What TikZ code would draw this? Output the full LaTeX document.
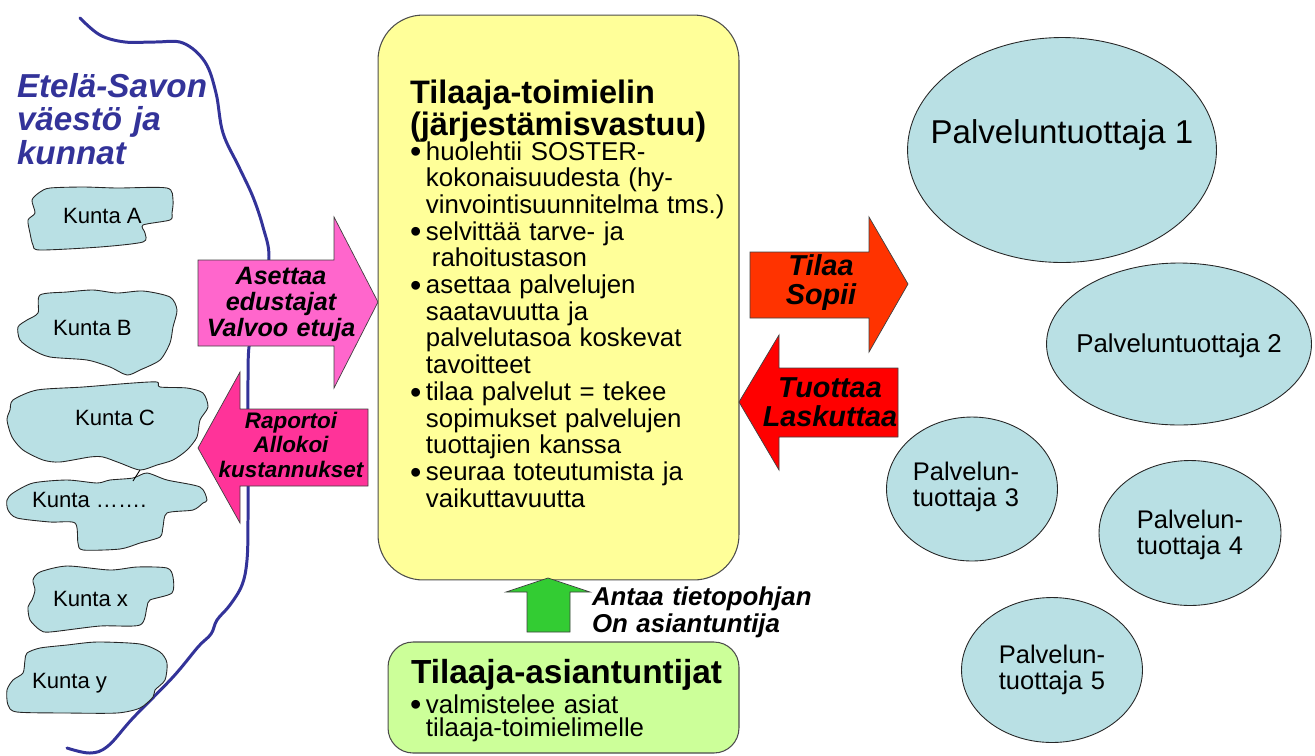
\documentclass[tikz,border=0pt]{standalone}
\usepackage{fontspec}
\setmainfont{Liberation Sans}
\usetikzlibrary{shapes.geometric}
\definecolor{navy}{RGB}{51,51,153}
\definecolor{blobc}{RGB}{185,224,228}
\definecolor{yel}{RGB}{255,255,153}
\definecolor{lgreen}{RGB}{204,255,153}
\definecolor{pinkA}{RGB}{255,102,204}
\definecolor{pinkB}{RGB}{255,51,153}
\definecolor{orng}{RGB}{255,51,0}
\definecolor{redd}{RGB}{255,0,0}
\definecolor{grn}{RGB}{51,204,51}
\newcommand{\bul}{\makebox[9.1pt][l]{\raisebox{-1.6pt}{\scalebox{1.25}{•}}}}
\newcommand{\ind}{\hspace*{9.1pt}}
\begin{document}
\begin{tikzpicture}[x=0.02cm,y=-0.02cm,
  blob/.style={draw=black!85,line width=0.5pt,fill=blobc},
  blockarrow/.style={draw=black!75,line width=0.4pt},
  txt/.style={inner sep=0pt,outer sep=0pt},
  ltxt/.style={txt,text width=8cm,align=left,anchor=base west},
  ctxt/.style={txt,text width=5cm,align=center,anchor=base},
  kunta/.style={txt,anchor=base west,font=\fontsize{12.6}{14}\selectfont},
  prod/.style={ellipse,draw=black!85,line width=0.5pt,fill=blobc,inner sep=0pt},
  panel/.style={draw=black!70,line width=0.6pt}
]
\useasboundingbox (0,0) rectangle (1315,755);

% border line
\draw[navy,line width=1.7pt,line cap=round] plot[smooth,tension=0.6] coordinates {
 (80,18) (100,35) (125,42) (155,42) (183,43) (205,62) (216,93) (223,133)
 (239,167) (253,197) (263,227) (269,257) (262,300) (250,340) (248,380)
 (248,450) (248,520) (247,560) (242,585) (230,605) (217,620) (211,634)
 (198,647) (173,677) (133,718) (108,746) (90,753) (67,748)};

\node[ltxt,text=navy,font=\fontsize{18.9}{19.3}\selectfont\bfseries\itshape] (region) at (17,97) {Etelä-Savon\\väestö ja\\kunnat};

% municipalities
\draw[blob] plot[smooth cycle,tension=0.45] coordinates {(40,192) (50,188) (83,187) (117,188) (167,188) (173,200) (172,213) (170,220) (143,225) (145,233) (143,242) (100,247) (40,250) (33,245) (30,233) (28,220) (35,213) (32,200)};
\node[kunta] (ka) at (63,223) {Kunta A};

\draw[blob] plot[smooth cycle,tension=0.45] coordinates {(40,295) (67,292) (93,290) (117,293) (143,291) (170,297) (177,310) (173,327) (170,343) (160,360) (140,370) (127,375) (110,367) (87,360) (50,357) (33,350) (20,340) (18,327) (27,320) (38,313)};
\node[kunta] (kb) at (53,335) {Kunta B};

\draw[blob] plot[smooth cycle,tension=0.45] coordinates {(13,400) (37,390) (83,387) (133,383) (157,382) (160,387) (187,388) (203,393) (208,407) (200,420) (197,437) (187,450) (173,460) (157,465) (140,470) (120,463) (103,457) (90,457) (60,462) (43,460) (23,450) (12,437) (7,420) (10,410)};
\node[kunta] (kc) at (75,425) {Kunta C};

\draw[blob] plot[smooth cycle,tension=0.45] coordinates {(13,493) (33,483) (67,480) (97,483) (110,480) (133,478) (147,473) (167,480) (200,487) (207,500) (203,503) (193,510) (167,513) (163,527) (160,537) (140,543) (120,549) (83,550) (78,543) (75,523) (50,522) (17,518) (8,510) (7,500)};
\node[kunta] (kd) at (32,507) {Kunta …….};
\draw[black,line width=0.5pt] (140,470) -- (133,481);

\draw[blob] plot[smooth cycle,tension=0.45] coordinates {(40,572) (67,566) (110,570) (137,567) (167,568) (173,577) (172,593) (150,600) (147,607) (140,625) (100,626) (50,632) (40,630) (30,620) (28,607) (32,600) (35,590) (33,580)};
\node[kunta] (kx) at (53,606) {Kunta x};

\draw[blob] plot[smooth cycle,tension=0.45] coordinates {(27,653) (40,648) (67,645) (97,642) (140,644) (160,652) (167,663) (165,680) (155,690) (153,697) (140,708) (117,713) (67,713) (17,712) (8,705) (7,690) (13,680) (23,673) (25,660)};
\node[kunta] (ky) at (32,688) {Kunta y};

% left arrows
\draw[blockarrow,fill=pinkA] (198,260) -- (334,260) -- (334,217) -- (378,302) -- (334,388) -- (334,346) -- (198,346) -- cycle;
\node[ctxt,font=\fontsize{14.3}{15}\selectfont\bfseries\itshape] (aset) at (281,284) {Asettaa\\edustajat\\Valvoo etuja};

\draw[blockarrow,fill=pinkB] (368,409) -- (240,409) -- (240,372) -- (198,448) -- (240,523) -- (240,486) -- (368,486) -- cycle;
\node[ctxt,font=\fontsize{12.8}{14.2}\selectfont\bfseries\itshape] (rap) at (291,428) {Raportoi\\Allokoi\\kustannukset};

% main box
\node[panel,fill=yel,rounded corners=0.9cm,minimum width=7.22cm,minimum height=11.3cm] (tm) at (558.5,297.5) {};
\node[ltxt,font=\fontsize{18.5}{16.4}\selectfont\bfseries] (tmtitle) at (410,103) {Tilaaja-toimielin\\(järjestämisvastuu)};
\node[ltxt,font=\fontsize{14.7}{15.2}\selectfont] (tmbody) at (410,160) {\bul huolehtii SOSTER-\\\ind kokonaisuudesta (hy-\\\ind vinvointisuunnitelma tms.)\\\bul selvittää tarve- ja\\\hspace*{12.5pt}rahoitustason\\\bul asettaa palvelujen\\\ind saatavuutta ja\\\ind palvelutasoa koskevat\\\ind tavoitteet\\\bul tilaa palvelut = tekee\\\ind sopimukset palvelujen\\\ind tuottajien kanssa\\\bul seuraa toteutumista ja\\\ind vaikuttavuutta};

% right arrows
\draw[blockarrow,fill=orng] (750,252) -- (869,252) -- (869,217) -- (908,284) -- (869,352) -- (869,318) -- (750,318) -- cycle;
\node[ctxt,font=\fontsize{16.4}{17}\selectfont\bfseries\itshape] (tilaa) at (821,275) {Tilaa\\Sopii};

\draw[blockarrow,fill=redd] (898,368) -- (779,368) -- (779,335) -- (739,402) -- (779,470) -- (779,437) -- (898,437) -- cycle;
\node[ctxt,font=\fontsize{16.4}{17}\selectfont\bfseries\itshape] (tuot) at (830,397) {Tuottaa\\Laskuttaa};

% green arrow and box
\draw[blockarrow,fill=grn] (527,632) -- (527,592) -- (506,592) -- (548,578) -- (590,592) -- (570,592) -- (570,632) -- cycle;
\node[ltxt,font=\fontsize{14.7}{15.4}\selectfont\bfseries\itshape] (antaa) at (592,605) {Antaa tietopohjan\\On asiantuntija};

\node[panel,fill=lgreen,rounded corners=0.5cm,minimum width=7.02cm,minimum height=2.22cm] (ta) at (563.5,697.5) {};
\node[ltxt,font=\fontsize{19}{19}\selectfont\bfseries] (tatitle) at (411,683) {Tilaaja-asiantuntijat};
\node[ltxt,font=\fontsize{14.7}{13.6}\selectfont] (tabody) at (410,713) {\bul valmistelee asiat\\\ind tilaaja-toimielimelle};

% producers
\node[prod,minimum width=6.18cm,minimum height=4.5cm] (e1) at (1062,150) {};
\node[txt,anchor=base,font=\fontsize{18.8}{20}\selectfont] (e1t) at (1062,143) {Palveluntuottaja 1};
\node[prod,minimum width=5.3cm,minimum height=3.24cm] (e2) at (1179,344) {};
\node[txt,anchor=base,font=\fontsize{14.7}{16}\selectfont] (e2t) at (1179,352) {Palveluntuottaja 2};
\node[prod,minimum width=3.42cm,minimum height=2.88cm] (e3) at (972,489) {};
\node[ctxt,font=\fontsize{14.5}{14.8}\selectfont] (e3t) at (966,480) {Palvelun-\\tuottaja 3};
\node[prod,minimum width=3.64cm,minimum height=2.9cm] (e4) at (1190,533) {};
\node[ctxt,font=\fontsize{14.5}{14.8}\selectfont] (e4t) at (1190,528) {Palvelun-\\tuottaja 4};
\node[prod,minimum width=3.62cm,minimum height=2.9cm] (e5) at (1052,670) {};
\node[ctxt,font=\fontsize{14.5}{14.8}\selectfont] (e5t) at (1052,663) {Palvelun-\\tuottaja 5};
\end{tikzpicture}
\end{document}
